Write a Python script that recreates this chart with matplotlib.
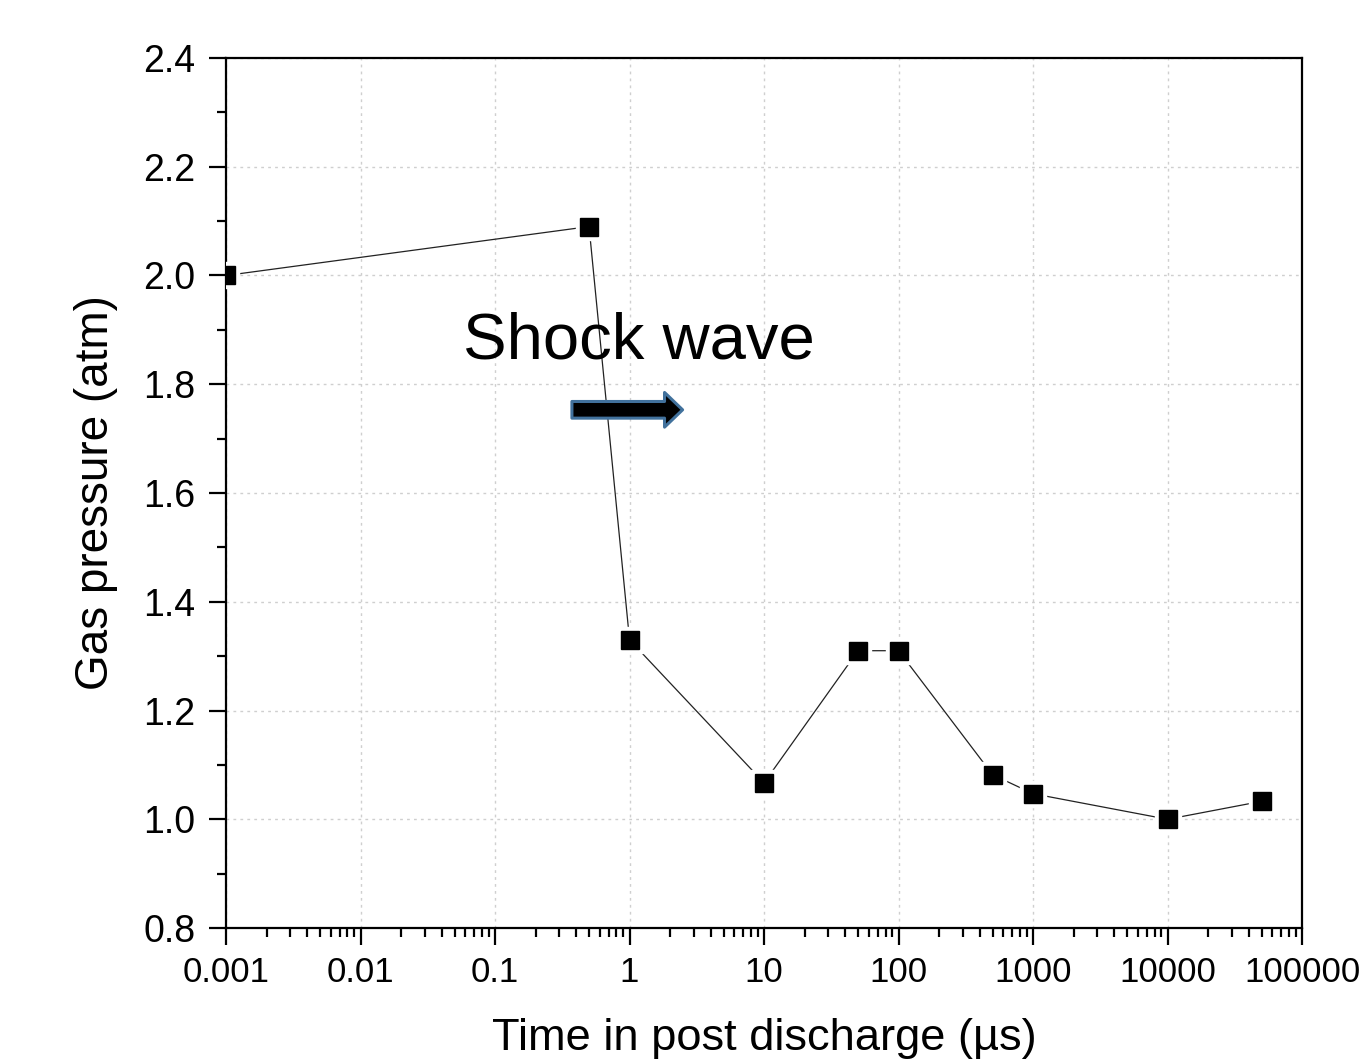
import numpy as np
import matplotlib
matplotlib.use("Agg")
import matplotlib.pyplot as plt
from matplotlib.ticker import FixedLocator, FixedFormatter, MultipleLocator, LogLocator, NullFormatter

plt.rcParams['font.family'] = ['Liberation Sans', 'DejaVu Sans']

# data
time_us = [0.001, 0.5, 1, 10, 50, 100, 500, 1000, 10000, 50000]
pressure = [2.0, 2.09, 1.33, 1.067, 1.31, 1.31, 1.082, 1.047, 1.0, 1.033]

xticks = [0.001, 0.01, 0.1, 1, 10, 100, 1000, 10000, 100000]
xtick_labels = ["0.001", "0.01", "0.1", "1", "10", "100", "1000", "10000", "100000"]
yticks = [0.8, 1.0, 1.2, 1.4, 1.6, 1.8, 2.0, 2.2, 2.4]
ytick_labels = ["0.8", "1.0", "1.2", "1.4", "1.6", "1.8", "2.0", "2.2", "2.4"]

fig = plt.figure(figsize=(13.69, 10.6), dpi=100)
ax = fig.add_axes([0.1651, 0.1245, 0.786, 0.8208])

ax.set_xscale("log")
ax.set_xlim(0.001, 100000)
ax.set_ylim(0.8, 2.4)

# line, then white halo squares to leave a gap, then black squares
ax.plot(time_us, pressure, color="#222222", lw=0.9, zorder=3)
ax.plot(time_us, pressure, ls="none", marker="s", ms=19, color="white", zorder=4)
ax.plot(time_us, pressure, ls="none", marker="s", ms=13, color="black", zorder=5)

ax.xaxis.set_major_locator(FixedLocator(xticks))
ax.xaxis.set_major_formatter(FixedFormatter(xtick_labels))
ax.xaxis.set_minor_locator(LogLocator(base=10, subs=np.arange(2, 10), numticks=20))
ax.xaxis.set_minor_formatter(NullFormatter())
ax.yaxis.set_major_locator(FixedLocator(yticks))
ax.yaxis.set_major_formatter(FixedFormatter(ytick_labels))
ax.yaxis.set_minor_locator(MultipleLocator(0.1))

ax.grid(True, which="major", ls=(0, (2, 3)), color="#cfcfcf", lw=1.0)
ax.set_axisbelow(True)

ax.tick_params(which="both", direction="out", top=False, right=False, width=1.6)
ax.tick_params(which="major", length=12)
ax.tick_params(which="minor", length=6.5)
ax.tick_params(axis="y", pad=10, labelsize=27)
ax.tick_params(axis="x", pad=8, labelsize=25)
for s in ax.spines.values():
    s.set_linewidth(1.6)

ax.set_xlabel("Time in post discharge (µs)", fontsize=32.6, labelpad=21)
ax.set_ylabel("Gas pressure (atm)", fontsize=33, labelpad=18)

ax.text(0.0578, 1.848, "Shock wave", fontsize=47, ha="left", va="baseline", zorder=6)
ax.annotate("", xy=(2.48, 1.753), xytext=(0.373, 1.753),
            arrowprops=dict(arrowstyle="simple,head_width=25,head_length=13,tail_width=12",
                            mutation_scale=1, fc="black", ec="#41719c", lw=2.2,
                            shrinkA=0, shrinkB=0), zorder=6)

fig.savefig("out.png", dpi=100)
